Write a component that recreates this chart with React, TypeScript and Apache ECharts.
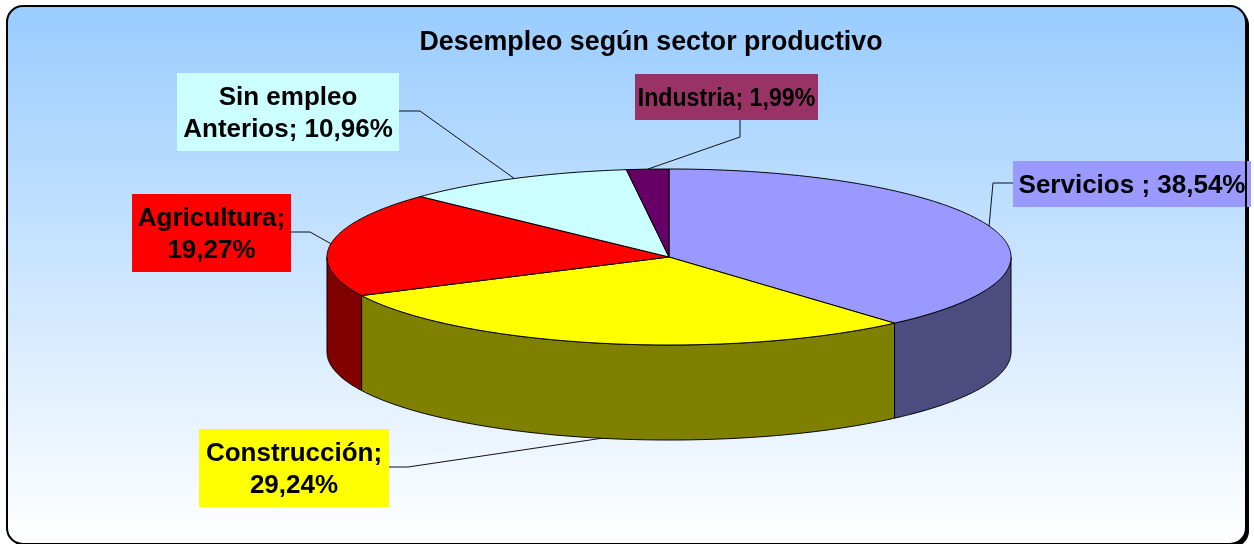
import React, { useEffect, useRef } from "react";
import * as echarts from "echarts";

// ---- data ----
const categories = ["Servicios", "Construcción", "Agricultura", "Sin empleo\nAnterios", "Industria"];
const labelSeparators = [" ; ", ";\n", ";\n", "; ", "; "];
const values = [38.54, 29.24, 19.27, 10.96, 1.99];
const titleText = "Desempleo según sector productivo";

// ---- styles ----
const topColors = ["#9999FF", "#FFFF00", "#FF0000", "#CCFFFF", "#660066"];
const wallColors = ["#4C4C7F", "#808000", "#800000", "#668080", "#330033"];
const labelColors = ["#9999FF", "#FFFF00", "#FF0000", "#CCFFFF", "#993366"];

// ---- layout ----
const PIE = { cx: 669, cy: 257, rx: 342, ry: 88, depth: 95 };
const labelBoxes = [
  [1013, 161, 238, 46],
  [199, 429, 190, 78],
  [132, 194, 159, 78],
  [177, 73, 222, 78],
  [635, 74, 183, 46],
];
const labelScaleX = [1, 1, 1, 1, 0.89];
const labelElbows = [
  [[1013, 183], [993, 183]],
  [[389, 467], [408, 467]],
  [[291, 232], [310, 232]],
  [[399, 111], [420, 111]],
  [[740, 120], [740, 137]],
];
const FONT = '"Liberation Sans", Arial, sans-serif';

const total = values.reduce((a, b) => a + b, 0);
const starts: number[] = [];
{
  let acc = 0;
  values.forEach((v) => {
    starts.push((acc / total) * 360);
    acc += v;
  });
}
const ends = values.map((v, i) => starts[i] + (v / total) * 360);

function pt(deg: number, dy = 0): number[] {
  const r = (deg * Math.PI) / 180;
  return [PIE.cx + PIE.rx * Math.sin(r), PIE.cy - PIE.ry * Math.cos(r) + dy];
}
function arc(a: number, b: number, dy: number): number[][] {
  const n = Math.max(2, Math.ceil((b - a) / 0.5));
  const pts: number[][] = [];
  for (let k = 0; k <= n; k++) pts.push(pt(a + ((b - a) * k) / n, dy));
  return pts;
}
function fmtPct(v: number) {
  return v.toFixed(2).replace(".", ",") + "%";
}

export default function App() {
  const ref = useRef<HTMLDivElement>(null);
  useEffect(() => {
    if (!ref.current) return;
    const chart = echarts.init(ref.current, null, { renderer: "svg" });
    const data = values.map((v, i) => ({ value: v, name: categories[i] }));
    chart.setOption({
      animation: false,
      title: {
        text: titleText,
        left: 646,
        textAlign: "center",
        top: 22,
        textStyle: { fontSize: 26.8, fontWeight: "bold", fontFamily: FONT, color: "#000" },
      },
      graphic: [
        {
          type: "rect",
          z: 0,
          shape: { x: 10, y: 9, width: 1239, height: 538, r: 16 },
          style: { fill: "#000" },
        },
        {
          type: "rect",
          z: 1,
          shape: { x: 7, y: 6, width: 1239, height: 538, r: 16 },
          style: {
            fill: new echarts.graphic.LinearGradient(0, 0, 0, 1, [
              { offset: 0, color: "#99CCFF" },
              { offset: 1, color: "#FFFFFF" },
            ]),
          },
        },
        {
          type: "rect",
          z: 100,
          shape: { x: 7, y: 6, width: 1239, height: 538, r: 16 },
          style: { fill: "none", stroke: "#000", lineWidth: 2 },
        },
      ],
      series: [
        {
          type: "custom",
          coordinateSystem: "none",
          z: 2,
          silent: true,
          data,
          renderItem: (params: any) => {
            const i = params.dataIndex;
            const lo = Math.max(starts[i], 90);
            const hi = Math.min(ends[i], 270);
            if (lo >= hi) return { type: "group", children: [] };
            const pts = [...arc(lo, hi, 0), ...arc(lo, hi, PIE.depth).reverse()];
            return {
              type: "polygon",
              shape: { points: pts },
              style: { fill: wallColors[i], stroke: "#000", lineWidth: 1 },
            };
          },
        },
        {
          type: "custom",
          coordinateSystem: "none",
          z: 3,
          silent: true,
          data,
          renderItem: (params: any) => {
            const i = params.dataIndex;
            const pts = [[PIE.cx, PIE.cy], ...arc(starts[i], ends[i], 0)];
            return {
              type: "polygon",
              shape: { points: pts },
              style: { fill: topColors[i], stroke: "#000", lineWidth: 1 },
            };
          },
        },
        {
          type: "custom",
          coordinateSystem: "none",
          z: 4,
          silent: true,
          data,
          renderItem: (params: any) => {
            const i = params.dataIndex;
            const mid = (starts[i] + ends[i]) / 2;
            const front = Math.cos((mid * Math.PI) / 180) < 0;
            const anchor = pt(mid, front ? PIE.depth : 0);
            const [bx, by, bw, bh] = labelBoxes[i];
            const text = categories[i] + labelSeparators[i] + fmtPct(values[i]);
            return {
              type: "group",
              children: [
                {
                  type: "polyline",
                  shape: { points: [...labelElbows[i], anchor] },
                  style: { stroke: "#111", lineWidth: 1, fill: "none" },
                },
                {
                  type: "rect",
                  shape: { x: bx, y: by, width: bw, height: bh },
                  style: { fill: labelColors[i] },
                },
                {
                  type: "text",
                  x: bx + bw / 2,
                  y: by + bh / 2,
                  scaleX: labelScaleX[i],
                  style: {
                    text,
                    align: "center",
                    verticalAlign: "middle",
                    fontSize: 26,
                    fontWeight: "bold",
                    fontFamily: FONT,
                    lineHeight: 32,
                    fill: "#000",
                  },
                },
              ],
            };
          },
        },
      ],
    });
    return () => chart.dispose();
  }, []);
  return (
    <div
      ref={ref}
      style={{ position: "fixed", left: 0, top: 0, width: 1254, height: 544 }}
    />
  );
}
